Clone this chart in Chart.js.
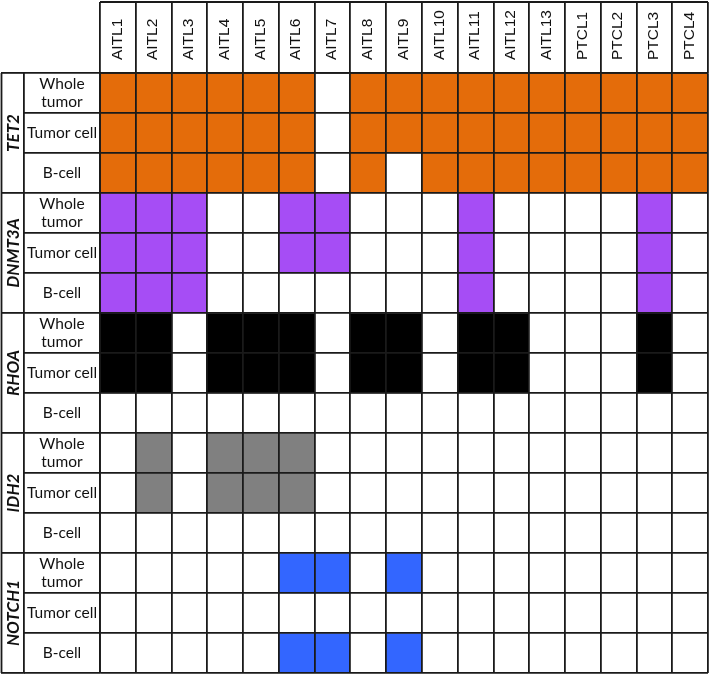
<!DOCTYPE html>
<html>
<head>
<meta charset="utf-8">
<script src="https://cdn.jsdelivr.net/npm/chart.js@4.4.1/dist/chart.umd.min.js"></script>
<style>
    html, body { margin: 0; padding: 0; background: #fff; }
</style>
</head>
<body>
<canvas id="mutationChart" width="709" height="674"></canvas>
<script>

// ================= DATA =================

const samples = [
    "AITL1", "AITL2", "AITL3", "AITL4", "AITL5", "AITL6", "AITL7", "AITL8", "AITL9",
    "AITL10", "AITL11", "AITL12", "AITL13", "PTCL1", "PTCL2", "PTCL3", "PTCL4"
];

const genes = ["TET2", "DNMT3A", "RHOA", "IDH2", "NOTCH1"];

const sampleTypes = [["Whole", "tumor"], "Tumor cell", "B-cell"];

// 1 = mutation detected; rows: whole tumor, tumor cell, B-cell
const tet2 = [
    [1, 1, 1, 1, 1, 1, 0, 1, 1, 1, 1, 1, 1, 1, 1, 1, 1],
    [1, 1, 1, 1, 1, 1, 0, 1, 1, 1, 1, 1, 1, 1, 1, 1, 1],
    [1, 1, 1, 1, 1, 1, 0, 1, 0, 1, 1, 1, 1, 1, 1, 1, 1]
];

const dnmt3a = [
    [1, 1, 1, 0, 0, 1, 1, 0, 0, 0, 1, 0, 0, 0, 0, 1, 0],
    [1, 1, 1, 0, 0, 1, 1, 0, 0, 0, 1, 0, 0, 0, 0, 1, 0],
    [1, 1, 1, 0, 0, 0, 0, 0, 0, 0, 1, 0, 0, 0, 0, 1, 0]
];

const rhoa = [
    [1, 1, 0, 1, 1, 1, 0, 1, 1, 0, 1, 1, 0, 0, 0, 1, 0],
    [1, 1, 0, 1, 1, 1, 0, 1, 1, 0, 1, 1, 0, 0, 0, 1, 0],
    [0, 0, 0, 0, 0, 0, 0, 0, 0, 0, 0, 0, 0, 0, 0, 0, 0]
];

const idh2 = [
    [0, 1, 0, 1, 1, 1, 0, 0, 0, 0, 0, 0, 0, 0, 0, 0, 0],
    [0, 1, 0, 1, 1, 1, 0, 0, 0, 0, 0, 0, 0, 0, 0, 0, 0],
    [0, 0, 0, 0, 0, 0, 0, 0, 0, 0, 0, 0, 0, 0, 0, 0, 0]
];

const notch1 = [
    [0, 0, 0, 0, 0, 1, 1, 0, 1, 0, 0, 0, 0, 0, 0, 0, 0],
    [0, 0, 0, 0, 0, 0, 0, 0, 0, 0, 0, 0, 0, 0, 0, 0, 0],
    [0, 0, 0, 0, 0, 1, 1, 0, 1, 0, 0, 0, 0, 0, 0, 0, 0]
];

// ================= STYLE =================

const geneColors = ["#E46C0A", "#A64DF5", "#000000", "#808080", "#3366FF"];
const lineColor = "#1a1a1a";
const lineWidth = 1.8;

const headerFont = { family: "'Liberation Sans', Arial, sans-serif", size: 15.5, lineHeight: 1.2 };
const rowFont = { family: "Lato, 'Open Sans', sans-serif", size: 15.5 };
const geneFont = { family: "Lato, 'Open Sans', sans-serif", size: 17, weight: "bold", style: "italic" };

// ================= ROWS =================

const mutations = [tet2, dnmt3a, rhoa, idh2, notch1];
const rowLabels = [];
const datasets = [];

genes.forEach((gene, gi) => {

    mutations[gi].forEach((row, ti) => {

        rowLabels.push(sampleTypes[ti]);

        datasets.push({
            label: gene + " " + [].concat(sampleTypes[ti]).join(" "),
            data: row.map(() => 1),
            backgroundColor: row.map(m => m ? geneColors[gi] : "#ffffff"),
            borderWidth: 0,
            barPercentage: 1,
            categoryPercentage: 1
        });

    });

});

// label widths, so the text can be centred in its column
const measure = document.createElement("canvas").getContext("2d");

function widest(labels, font) {
    measure.font = (font.style ? font.style + " " : "") + (font.weight ? font.weight + " " : "") + font.size + "px " + font.family;
    let w = 0;
    labels.forEach(l => [].concat(l).forEach(t => { w = Math.max(w, measure.measureText(t).width); }));
    return w;
}

const rowAxisWidth = 76;
const geneAxisWidth = 23;
const rowPadding = rowAxisWidth / 2 - rowAxisWidth - widest(rowLabels, rowFont) / 2;
const genePadding = geneAxisWidth / 2 - geneAxisWidth - 1 - widest(genes, geneFont) / 2;

// outer lines of the table that no axis draws
const tableEdges = {
    id: "tableEdges",
    afterDraw(chart) {
        const { ctx, chartArea, scales } = chart;
        ctx.save();
        ctx.strokeStyle = lineColor;
        ctx.lineWidth = lineWidth;
        ctx.beginPath();
        ctx.moveTo(chartArea.left, scales.x.top + 1);
        ctx.lineTo(chartArea.right, scales.x.top + 1);
        ctx.moveTo(scales.genes.left + 0.5, chartArea.top);
        ctx.lineTo(scales.genes.left + 0.5, chartArea.bottom);
        ctx.stroke();
        ctx.restore();
    }
};

const gridLines = (tickLength, onArea) => ({
    offset: true,
    color: lineColor,
    lineWidth: lineWidth,
    drawOnChartArea: onArea,
    drawTicks: true,
    tickLength: tickLength,
    tickColor: lineColor,
    tickWidth: lineWidth,
    z: 1
});

const axisBorder = { display: true, color: lineColor, width: lineWidth, z: 1 };

new Chart(document.getElementById("mutationChart"), {
    type: "bar",
    data: {
        labels: samples,
        datasets: datasets
    },
    options: {
        responsive: false,
        animation: false,
        layout: { padding: { left: 1, top: 1, right: 1, bottom: 1 } },
        plugins: {
            legend: { display: false },
            tooltip: { enabled: false }
        },
        scales: {
            x: {
                type: "category",
                position: "top",
                stacked: true,
                offset: true,
                grid: gridLines(71, true),
                border: axisBorder,
                ticks: {
                    minRotation: 90,
                    maxRotation: 90,
                    autoSkip: false,
                    padding: -58,
                    labelOffset: headerFont.size * headerFont.lineHeight - 0.5,
                    color: "#111",
                    font: headerFont
                },
                afterFit: s => { s.height = 72; s.paddingLeft = 0; s.paddingRight = 0; }
            },
            y: {
                type: "linear",
                stacked: true,
                min: 0,
                max: 15,
                reverse: true,
                display: false
            },
            rows: {
                type: "category",
                labels: rowLabels,
                position: "left",
                weight: 0,
                offset: true,
                grid: gridLines(rowAxisWidth, true),
                border: axisBorder,
                ticks: {
                    autoSkip: false,
                    crossAlign: "center",
                    padding: rowPadding,
                    color: "#111",
                    font: rowFont
                },
                afterFit: s => { s.width = rowAxisWidth; }
            },
            genes: {
                type: "category",
                labels: genes,
                position: "left",
                weight: 1,
                offset: true,
                grid: gridLines(geneAxisWidth, false),
                border: axisBorder,
                ticks: {
                    autoSkip: false,
                    minRotation: 90,
                    maxRotation: 90,
                    crossAlign: "center",
                    padding: genePadding,
                    color: "#111",
                    font: geneFont
                },
                afterFit: s => { s.width = geneAxisWidth; }
            }
        }
    },
    plugins: [tableEdges]
});

</script>
</body>
</html>
